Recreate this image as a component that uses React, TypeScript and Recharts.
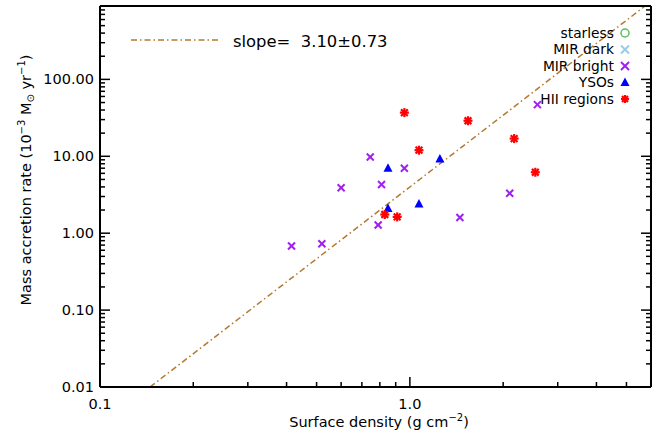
import React from "react";
import { ScatterChart, Scatter, XAxis, YAxis, ReferenceLine } from "recharts";

// tick positions (log axes, minor ticks at every integer multiple)
const xTicks = [0.1, 0.2, 0.3, 0.4, 0.5, 0.6, 0.7, 0.8, 0.9, 1, 2, 3, 4, 5, 6];
const xMajor = [0.1, 1];
const xMajorLabels = ["0.1", "1.0"];
const yTicks = [
  0.01, 0.02, 0.03, 0.04, 0.05, 0.06, 0.07, 0.08, 0.09,
  0.1, 0.2, 0.3, 0.4, 0.5, 0.6, 0.7, 0.8, 0.9,
  1, 2, 3, 4, 5, 6, 7, 8, 9,
  10, 20, 30, 40, 50, 60, 70, 80, 90,
  100, 200, 300, 400, 500, 600, 700, 800, 900,
];
const yMajor = [0.01, 0.1, 1, 10, 100];
const yMajorLabels = ["0.01", "0.10", "1.00", "10.00", "100.00"];

// surface density (g cm^-2) vs mass accretion rate (1e-3 Msun/yr)
const mirBrightX = [0.415, 0.52, 0.6, 0.745, 0.81, 0.79, 0.96, 1.45, 2.1, 2.58];
const mirBrightY = [0.68, 0.73, 3.9, 9.8, 4.3, 1.28, 7.0, 1.6, 3.3, 47];
const ysoX = [0.85, 1.25, 0.85, 1.07];
const ysoY = [7.0, 9.2, 2.1, 2.4];
const hiiX = [0.96, 1.54, 2.17, 1.07, 2.54, 0.83, 0.91];
const hiiY = [37, 29, 17, 12, 6.2, 1.75, 1.63];

// fitted power law, end points
const fitX = [0.145, 5.74];
const fitY = [0.01, 900];

const legendNames = ["starless", "MIR dark", "MIR bright", "YSOs", "HII regions"];

const toPoints = (xs: number[], ys: number[]) => xs.map((x, i) => ({ x, y: ys[i] }));

const FONT = "'DejaVu Sans', sans-serif";
const FIT_COLOR = "#b47a30";

function Cross({ cx, cy, color, r = 3.5 }: any) {
  return (
    <g stroke={color} strokeWidth={2}>
      <line x1={cx - r} y1={cy - r} x2={cx + r} y2={cy + r} />
      <line x1={cx - r} y1={cy + r} x2={cx + r} y2={cy - r} />
    </g>
  );
}

function Triangle({ cx, cy, color = "#0000ff" }: any) {
  return <path d={`M${cx},${cy - 5} L${cx + 4.5},${cy + 3.5} L${cx - 4.5},${cy + 3.5} Z`} fill={color} />;
}

function Asterisk({ cx, cy, color = "#ff0000", r = 4.5 }: any) {
  const d = r * 0.75;
  return (
    <g stroke={color} strokeWidth={2.2}>
      <line x1={cx - r} y1={cy} x2={cx + r} y2={cy} />
      <line x1={cx} y1={cy - r} x2={cx} y2={cy + r} />
      <line x1={cx - d} y1={cy - d} x2={cx + d} y2={cy + d} />
      <line x1={cx - d} y1={cy + d} x2={cx + d} y2={cy - d} />
    </g>
  );
}

function BottomTick({ x, y, payload }: any) {
  const i = xMajor.indexOf(payload.value);
  return (
    <g>
      <line x1={x} x2={x} y1={y} y2={y - (i >= 0 ? 10 : 5)} stroke="#000" strokeWidth={1.5} />
      {i >= 0 && (
        <text x={x} y={y + 22} textAnchor="middle" fontSize={14.5} fontFamily={FONT} fill="#000">
          {xMajorLabels[i]}
        </text>
      )}
    </g>
  );
}

function TopTick({ x, y, payload }: any) {
  const major = xMajor.includes(payload.value);
  return <line x1={x} x2={x} y1={y} y2={y + (major ? 10 : 5)} stroke="#000" strokeWidth={1.5} />;
}

function LeftTick({ x, y, payload }: any) {
  const i = yMajor.indexOf(payload.value);
  return (
    <g>
      <line x1={x} x2={x + (i >= 0 ? 10 : 5)} y1={y} y2={y} stroke="#000" strokeWidth={1.5} />
      {i >= 0 && (
        <text x={x - 6} y={y + 5} textAnchor="end" fontSize={14.5} fontFamily={FONT} fill="#000">
          {yMajorLabels[i]}
        </text>
      )}
    </g>
  );
}

function RightTick({ x, y, payload }: any) {
  const major = yMajor.includes(payload.value);
  return <line x1={x} x2={x - (major ? 10 : 5)} y1={y} y2={y} stroke="#000" strokeWidth={1.5} />;
}

const legendSymbols = [
  (cx: number, cy: number) => <circle cx={cx} cy={cy} r={4} fill="none" stroke="#5cbf5c" strokeWidth={1.5} />,
  (cx: number, cy: number) => <Cross cx={cx} cy={cy} color="#9ccbe6" r={4} />,
  (cx: number, cy: number) => <Cross cx={cx} cy={cy} color="#a020f0" r={4} />,
  (cx: number, cy: number) => <Triangle cx={cx} cy={cy} />,
  (cx: number, cy: number) => <Asterisk cx={cx} cy={cy} r={4} />,
];

function Overlay() {
  return (
    <svg
      width={670}
      height={437}
      style={{ position: "absolute", left: 0, top: 0, pointerEvents: "none" }}
    >
      <line x1={131} x2={220} y1={40} y2={40} stroke={FIT_COLOR} strokeWidth={1.5} strokeDasharray="6 3 1.5 3" />
      <text x={233} y={47} fontSize={16.4} fontFamily={FONT} fill="#000" style={{ whiteSpace: "pre" }}>
        {"slope=  3.10±0.73"}
      </text>
      {legendNames.map((name, i) => {
        const base = 37.5 + i * 16.5;
        return (
          <g key={name}>
            <text x={614} y={base} textAnchor="end" fontSize={13.8} fontFamily={FONT} fill="#000">
              {name}
            </text>
            {legendSymbols[i](625, base - 4.5)}
          </g>
        );
      })}
      <text x={379} y={427} textAnchor="middle" fontSize={14.5} fontFamily={FONT} fill="#000">
        <tspan>Surface density (g cm</tspan>
        <tspan dy={-6} fontSize={10}>−2</tspan>
        <tspan dy={6}>)</tspan>
      </text>
      <text
        x={31}
        y={180}
        textAnchor="middle"
        fontSize={14.5}
        fontFamily={FONT}
        fill="#000"
        transform="rotate(-90 31 180)"
      >
        <tspan>Mass accretion rate (10</tspan>
        <tspan dy={-6} fontSize={10}>−3</tspan>
        <tspan dy={6}> M</tspan>
        <tspan dy={3} fontSize={10}>⊙</tspan>
        <tspan dy={-3}> yr</tspan>
        <tspan dy={-6} fontSize={10}>−1</tspan>
        <tspan dy={6}>)</tspan>
      </text>
    </svg>
  );
}

export default function App() {
  const axisLine = { stroke: "#000", strokeWidth: 2 };
  return (
    <div style={{ position: "absolute", left: 0, top: 0, width: 670, height: 437, background: "#fff" }}>
      <ScatterChart width={670} height={437} margin={{ top: 0, right: 0, bottom: 0, left: 0 }}>
        <XAxis
          xAxisId="bottom"
          dataKey="x"
          type="number"
          scale="log"
          domain={[0.1, 6]}
          allowDataOverflow
          ticks={xTicks}
          interval={0}
          height={50}
          tickSize={0}
          tickMargin={0}
          axisLine={axisLine}
          tick={<BottomTick />}
        />
        <XAxis
          xAxisId="top"
          orientation="top"
          type="number"
          scale="log"
          domain={[0.1, 6]}
          allowDataOverflow
          ticks={xTicks}
          interval={0}
          height={6}
          tickSize={0}
          tickMargin={0}
          axisLine={axisLine}
          tick={<TopTick />}
        />
        <YAxis
          yAxisId="left"
          dataKey="y"
          type="number"
          scale="log"
          domain={[0.01, 900]}
          allowDataOverflow
          ticks={yTicks}
          interval={0}
          width={100}
          tickSize={0}
          tickMargin={0}
          axisLine={axisLine}
          tick={<LeftTick />}
        />
        <YAxis
          yAxisId="right"
          orientation="right"
          type="number"
          scale="log"
          domain={[0.01, 900]}
          allowDataOverflow
          ticks={yTicks}
          interval={0}
          width={19}
          tickSize={0}
          tickMargin={0}
          axisLine={axisLine}
          tick={<RightTick />}
        />
        <ReferenceLine
          xAxisId="bottom"
          yAxisId="left"
          segment={toPoints(fitX, fitY)}
          stroke={FIT_COLOR}
          strokeWidth={1.5}
          strokeDasharray="6 3 1.5 3"
        />
        <Scatter
          name="MIR bright"
          xAxisId="bottom"
          yAxisId="left"
          data={toPoints(mirBrightX, mirBrightY)}
          shape={(p: any) => <Cross cx={p.cx} cy={p.cy} color="#a020f0" />}
          isAnimationActive={false}
        />
        <Scatter
          name="YSOs"
          xAxisId="bottom"
          yAxisId="left"
          data={toPoints(ysoX, ysoY)}
          shape={(p: any) => <Triangle cx={p.cx} cy={p.cy} />}
          isAnimationActive={false}
        />
        <Scatter
          name="HII regions"
          xAxisId="bottom"
          yAxisId="left"
          data={toPoints(hiiX, hiiY)}
          shape={(p: any) => <Asterisk cx={p.cx} cy={p.cy} />}
          isAnimationActive={false}
        />
      </ScatterChart>
      <Overlay />
    </div>
  );
}
